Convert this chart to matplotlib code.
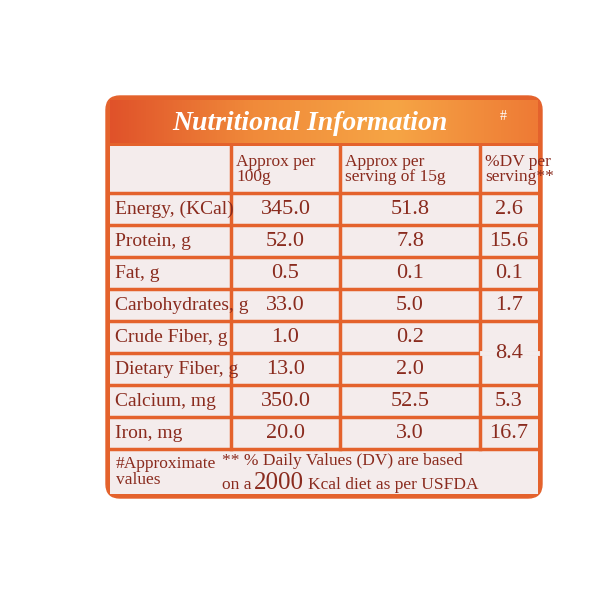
import matplotlib.pyplot as plt
from matplotlib.patches import FancyBboxPatch, Rectangle
from matplotlib.colors import LinearSegmentedColormap
import numpy as np

nutrients = ['Energy, (KCal)', 'Protein, g', 'Fat, g', 'Carbohydrates, g',
             'Crude Fiber, g', 'Dietary Fiber, g', 'Calcium, mg', 'Iron, mg']
per_100g = ['345.0', '52.0', '0.5', '33.0', '1.0', '13.0', '350.0', '20.0']
per_serving = ['51.8', '7.8', '0.1', '5.0', '0.2', '2.0', '52.5', '3.0']
dv = ['2.6', '15.6', '0.1', '1.7', '8.4', None, '5.3', '16.7']
headers = ['Approx per\n100g', 'Approx per\nserving of 15g', '%DV per\nserving**']

ORANGE = '#e4622c'
TEXT = '#8a2b1e'
CELL = '#f4ecec'
FONT = 'Liberation Serif'

fig = plt.figure(figsize=(6, 6), dpi=100)
ax = fig.add_axes([0, 0, 1, 1])
ax.set_xlim(0, 600)
ax.set_ylim(600, 0)
ax.axis('off')
fig.patch.set_facecolor('white')

# outer panel
ax.add_patch(FancyBboxPatch((106, 96), 436, 402, boxstyle='round,pad=0,rounding_size=14',
                            fc=ORANGE, ec=ORANGE))
# title gradient
grad = np.linspace(0, 1, 256).reshape(1, -1)
cm = LinearSegmentedColormap.from_list('g', ['#e0522a', '#f08a3a', '#f6a545', '#ee7a35'])
ax.imshow(grad, cmap=cm, extent=(110, 538, 143, 100), aspect='auto', zorder=1)
ax.text(310, 124, 'Nutritional Information', color='white', fontsize=20,
        fontweight='bold', style='italic', family=FONT, ha='center', va='center', zorder=3)
ax.text(500, 116, '#', color='white', fontsize=10, family=FONT, ha='left', va='center', zorder=3)

# table
cols = [110, 231, 340, 480, 538]
top = 146
hdr_h = 47
row_h = 32
ys = [top + hdr_h + i * row_h for i in range(len(nutrients) + 1)]
ax.add_patch(Rectangle((110, 146), 428, 348, fc=CELL, ec='none', zorder=1))
lw = 2.5
for x in cols[1:-1]:
    ax.plot([x, x], [top, ys[-1]], color=ORANGE, lw=lw, zorder=2)
for y in ys:
    ax.plot([110, 538], [y, y], color=ORANGE, lw=lw, zorder=2)
# merged %DV cell for the two fiber rows
ax.plot([cols[3] + 2, cols[4] - 1], [ys[5], ys[5]], color=CELL, lw=lw + 1, zorder=2)

for j, h in enumerate(headers):
    ax.text(cols[j + 1] + 5, top + hdr_h / 2, h, color=TEXT,
            fontsize=12.5, family=FONT, ha='left', va='center', linespacing=0.85, zorder=3)

for i, n in enumerate(nutrients):
    yc = (ys[i] + ys[i + 1]) / 2
    ax.text(cols[0] + 5, yc, n, color=TEXT, fontsize=14, family=FONT,
            ha='left', va='center', zorder=3)
    ax.text((cols[1] + cols[2]) / 2, yc, per_100g[i], color=TEXT, fontsize=16,
            family=FONT, ha='center', va='center', zorder=3)
    ax.text((cols[2] + cols[3]) / 2, yc, per_serving[i], color=TEXT, fontsize=16,
            family=FONT, ha='center', va='center', zorder=3)
    if dv[i] is not None:
        ycd = ys[i + 1] if i == 4 else yc
        ax.text((cols[3] + cols[4]) / 2, ycd, dv[i], color=TEXT, fontsize=16,
                family=FONT, ha='center', va='center', zorder=3)

# footer
ax.text(116, 472, '#Approximate\nvalues', color=TEXT, fontsize=12.5, family=FONT,
        ha='left', va='center', linespacing=0.95, zorder=3)
ax.text(222, 461, '** % Daily Values (DV) are based', color=TEXT, fontsize=12.5,
        family=FONT, ha='left', va='center', zorder=3)
ax.text(222, 485, 'on a', color=TEXT, fontsize=12.5, family=FONT, ha='left', va='center', zorder=3)
ax.text(254, 483, '2000', color=TEXT, fontsize=18, family=FONT, ha='left', va='center', zorder=3)
ax.text(308, 485, 'Kcal diet as per USFDA', color=TEXT, fontsize=12.5,
        family=FONT, ha='left', va='center', zorder=3)

fig.savefig('out.png', dpi=100)
